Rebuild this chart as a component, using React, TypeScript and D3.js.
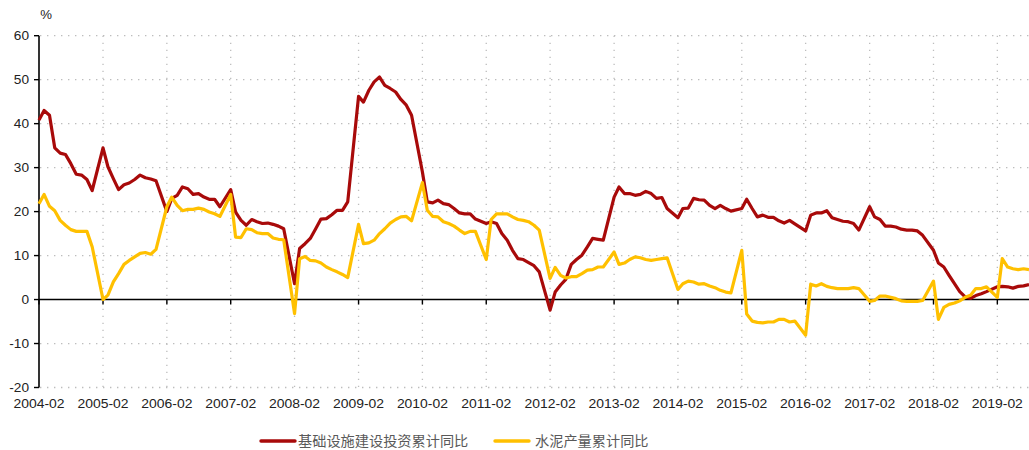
import * as d3 from 'd3';

// months shown (cumulative data: January is not published, Jan-Feb is reported as Feb)
const firstYear = 2004;
const lastYear = 2019;
const lastMonthOfLastYear = 8;

const monthKeys: string[] = [];
for (let y = firstYear; y <= lastYear; y++) {
  const end = y === lastYear ? lastMonthOfLastYear : 12;
  for (let m = 2; m <= end; m++) monthKeys.push(`${y}-${String(m).padStart(2, '0')}`);
}

const tickLabels = d3.range(firstYear, lastYear + 1).map((y) => `${y}-02`);
const yTicks = [60, 50, 40, 30, 20, 10, 0, -10, -20];

// 基础设施建设投资累计同比 (%), Feb..Dec each year
const infraYoY = [
  40.8, 43.0, 41.9, 34.5, 33.3, 33.0, 30.9, 28.5, 28.3, 27.3, 24.8, // 2004
  34.5, 30.2, 27.5, 25.0, 26.1, 26.5, 27.3, 28.3, 27.7, 27.4, 27.0, // 2005
  20.0, 23.0, 23.7, 25.6, 25.2, 23.9, 24.1, 23.3, 22.8, 22.8, 21.1, // 2006
  25.0, 19.9, 18.0, 16.9, 18.2, 17.7, 17.3, 17.4, 17.1, 16.7, 16.1, // 2007
  3.6, 11.6, 12.7, 13.9, 16.1, 18.3, 18.4, 19.3, 20.3, 20.3, 22.2, // 2008
  46.2, 44.9, 47.6, 49.5, 50.6, 48.7, 48.0, 47.2, 45.5, 44.2, 41.9, // 2009
  29.0, 22.2, 22.0, 22.6, 21.8, 21.6, 20.7, 19.7, 19.5, 19.5, 18.3, // 2010
  17.3, 17.7, 17.3, 15.0, 13.5, 11.2, 9.3, 9.1, 8.4, 7.7, 6.3, // 2011
  -2.4, 1.7, 3.3, 4.6, 8.0, 9.1, 10.1, 12.0, 13.9, 13.7, 13.5, // 2012
  23.3, 25.6, 24.1, 24.1, 23.7, 23.9, 24.6, 24.1, 23.0, 23.2, 20.7, // 2013
  18.6, 20.7, 20.8, 23.0, 22.7, 22.6, 21.4, 20.7, 21.4, 20.7, 20.1, // 2014
  20.7, 22.8, 20.7, 18.8, 19.2, 18.7, 18.7, 17.9, 17.4, 18.0, 17.2, // 2015
  15.6, 19.2, 19.7, 19.7, 20.2, 18.6, 18.2, 17.8, 17.7, 17.3, 15.8, // 2016
  21.1, 18.8, 18.2, 16.7, 16.7, 16.5, 16.0, 15.8, 15.8, 15.6, 14.6, // 2017
  11.2, 8.3, 7.4, 5.5, 3.6, 1.8, 0.6, 0.3, 0.9, 1.3, 1.8, // 2018
  2.9, 3.0, 2.9, 2.6, 3.0, 3.1, 3.4, // 2019
];

// 水泥产量累计同比 (%)
const cementYoY = [
  21.8, 23.9, 21.2, 20.2, 18.0, 16.9, 15.9, 15.5, 15.5, 15.5, 12.0, // 2004
  0.0, 1.0, 4.0, 5.9, 8.0, 8.9, 9.7, 10.5, 10.7, 10.3, 11.4, // 2005
  21.1, 23.3, 21.4, 20.2, 20.5, 20.5, 20.8, 20.5, 19.9, 19.5, 18.9, // 2006
  23.9, 14.2, 14.1, 16.1, 15.9, 15.2, 15.0, 15.0, 14.0, 13.7, 13.6, // 2007
  -3.2, 9.3, 9.8, 8.9, 8.8, 8.3, 7.4, 6.8, 6.3, 5.7, 5.0, // 2008
  17.1, 12.7, 12.9, 13.5, 15.0, 16.1, 17.4, 18.2, 18.8, 18.9, 17.9, // 2009
  26.6, 20.3, 18.9, 18.8, 17.7, 17.3, 16.7, 15.8, 15.0, 15.5, 15.5, // 2010
  9.1, 18.2, 19.5, 19.5, 19.5, 18.8, 18.2, 18.0, 17.7, 16.9, 15.8, // 2011
  4.8, 7.3, 5.5, 4.9, 5.2, 5.2, 5.9, 6.7, 6.8, 7.4, 7.4, // 2012
  10.8, 8.0, 8.3, 9.1, 9.7, 9.5, 9.1, 8.9, 9.1, 9.3, 9.5, // 2013
  2.3, 3.6, 4.2, 4.0, 3.5, 3.6, 3.1, 2.7, 2.1, 1.7, 1.5, // 2014
  11.2, -3.3, -4.9, -5.2, -5.3, -5.1, -5.1, -4.5, -4.5, -5.1, -4.9, // 2015
  -8.1, 3.5, 3.1, 3.6, 3.0, 2.7, 2.5, 2.5, 2.5, 2.7, 2.5, // 2016
  -0.4, -0.2, 0.8, 0.8, 0.5, 0.2, -0.3, -0.4, -0.4, -0.4, -0.2, // 2017
  4.2, -4.5, -1.8, -1.1, -0.8, -0.3, 0.5, 1.0, 2.5, 2.5, 2.9, // 2018
  0.5, 9.3, 7.4, 7.0, 6.8, 7.0, 6.8, // 2019
];

const seriesNames = ['基础设施建设投资累计同比', '水泥产量累计同比'];
const seriesColors = ['#A80A0A', '#FFC000'];

const W = 1029;
const H = 450;
const parse = d3.timeParse('%Y-%m');

export default function App() {
  const dates = monthKeys.map((k) => parse(k) as Date);
  const x = d3
    .scaleTime()
    .domain([parse('2004-02') as Date, parse('2019-08') as Date])
    .range([39, 1029]);
  const y = d3.scaleLinear().domain([-20, 60]).range([387.5, 35.7]);

  const line = d3
    .line<number>()
    .x((_, i) => x(dates[i]))
    .y((d) => y(d));

  const series = [infraYoY, cementYoY];
  const font = '"Liberation Sans", Arial, sans-serif';
  const grid = { stroke: '#BDBDBD', strokeWidth: 1.3, strokeDasharray: '1.4 5.6' };

  return (
    <div style={{ position: 'absolute', left: 0, top: 0 }}>
      <svg width={W} height={H} viewBox={`0 0 ${W} ${H}`} style={{ display: 'block', background: '#fff' }}>
        {/* horizontal grid */}
        {yTicks.filter((t) => t !== 0).map((t) => (
          <line key={`hg${t}`} x1={40} x2={W} y1={y(t)} y2={y(t)} {...grid} />
        ))}
        {/* vertical grid */}
        {tickLabels.slice(1).map((t) => (
          <line key={`vg${t}`} x1={x(parse(t) as Date)} x2={x(parse(t) as Date)} y1={y(60)} y2={y(-20)} {...grid} />
        ))}

        {/* y axis */}
        <line x1={39} x2={39} y1={y(60)} y2={y(-20)} stroke="#000" strokeWidth={1.6} />
        {yTicks.map((t) => (
          <g key={`yt${t}`}>
            <line x1={34} x2={39} y1={y(t)} y2={y(t)} stroke="#000" strokeWidth={1.4} />
            <text
              transform={`translate(29,${y(t)}) scale(1.14,1)`}
              dy="0.36em"
              textAnchor="end"
              fontFamily={font}
              fontSize={12}
              fill="#222"
            >
              {t}
            </text>
          </g>
        ))}
        <text transform="translate(46,19) scale(1.1,1)" textAnchor="middle" fontFamily={font} fontSize={12} fill="#222">
          %
        </text>

        {/* x axis at zero */}
        <line x1={39} x2={W} y1={y(0)} y2={y(0)} stroke="#000" strokeWidth={1.6} />
        {tickLabels.map((t) => {
          const px = x(parse(t) as Date);
          return (
            <g key={`xt${t}`}>
              <line x1={px} x2={px} y1={y(0)} y2={y(0) + 5} stroke="#000" strokeWidth={1.4} />
              <text
                transform={`translate(${px},408) scale(1.16,1)`}
                textAnchor="middle"
                fontFamily={font}
                fontSize={12}
                fill="#222"
              >
                {t}
              </text>
            </g>
          );
        })}

        {/* series */}
        {series.map((s, i) => (
          <path
            key={`s${i}`}
            d={line(s) ?? ''}
            fill="none"
            stroke={seriesColors[i]}
            strokeWidth={3.2}
            strokeLinejoin="round"
          />
        ))}

        {/* legend */}
        {[
          { lx: 261, tx: 298 },
          { lx: 495, tx: 535 },
        ].map((p, i) => (
          <g key={`lg${i}`}>
            <line x1={p.lx} x2={p.lx + 34} y1={441} y2={441} stroke={seriesColors[i]} strokeWidth={3.4} strokeLinecap="round" />
            <text
              x={p.tx}
              y={441}
              dy="0.36em"
              fontFamily='"Noto Sans CJK SC", sans-serif'
              fontSize={14.2}
              fill="#595959"
            >
              {seriesNames[i]}
            </text>
          </g>
        ))}
      </svg>
    </div>
  );
}
